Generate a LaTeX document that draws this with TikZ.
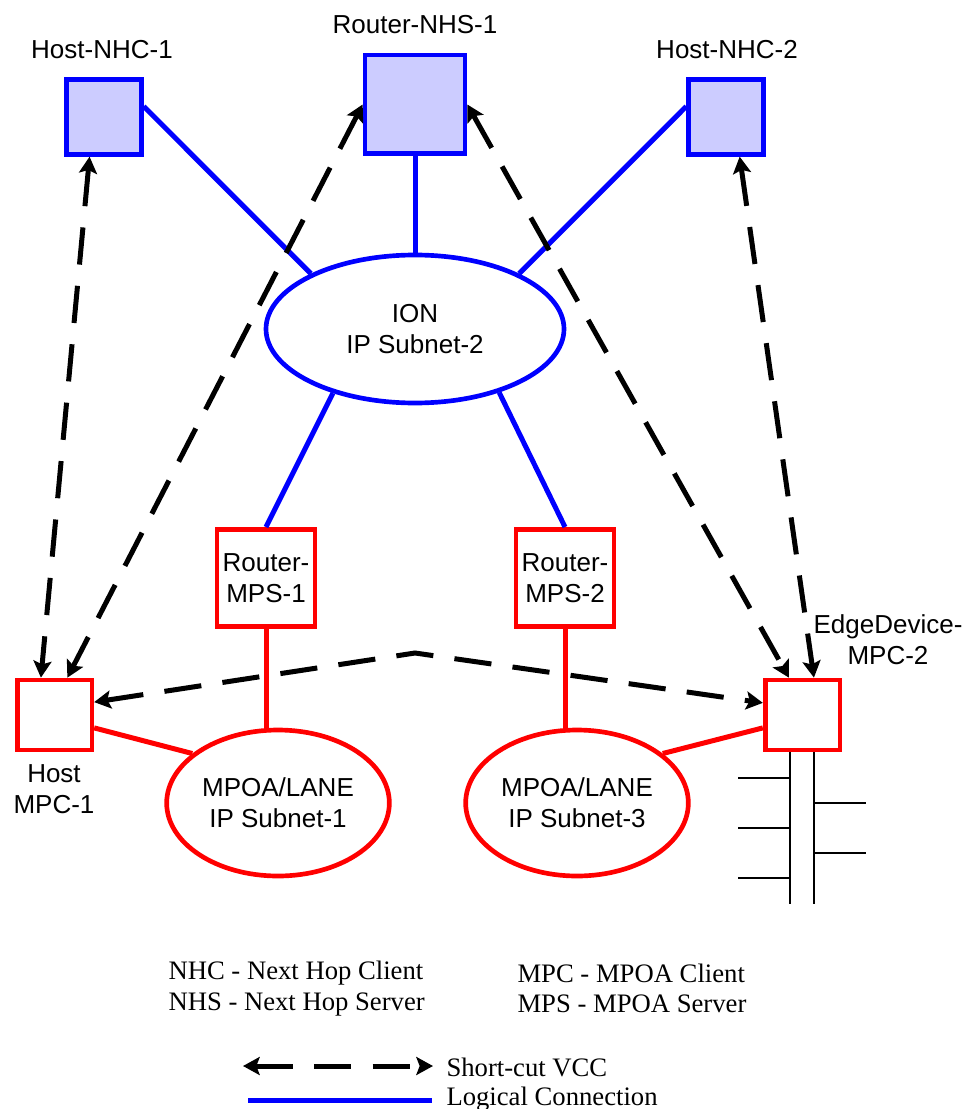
\documentclass[tikz,border=0pt]{standalone}
\usepackage{fontspec}
\setmainfont{Liberation Serif}
\setsansfont{Liberation Sans}
\usetikzlibrary{shapes.geometric,arrows.meta}

\definecolor{ionblue}{RGB}{0,0,255}
\definecolor{nhsfill}{RGB}{204,204,255}
\definecolor{lanered}{RGB}{255,0,0}

\tikzset{every picture/.style={line width=0.75pt}}
\tikzset{
	nhsbox/.style={draw=ionblue,fill=nhsfill,line width=3.5pt,inner sep=0pt},
	mpsbox/.style={draw=lanered,fill=white,line width=3.5pt,inner sep=0pt,align=center},
	cloud/.style={ellipse,fill=white,line width=3.5pt,inner sep=0pt,align=center},
	logical/.style={draw=ionblue,line width=3.75pt},
	lanelink/.style={draw=lanered,line width=3.75pt},
	vcc/.style={draw=black,line width=3.75pt,dash pattern=on 28pt off 16pt,
		{Stealth[length=12.5pt,width=13.5pt,inset=2.5pt]}-{Stealth[length=12.5pt,width=13.5pt,inset=2.5pt]}},
	devlabel/.style={align=center,inner sep=0.75pt},
	keytext/.style={font=\rmfamily\fontsize{20}{23}\selectfont,anchor=west,inner sep=0.75pt}
}

\begin{document}
\begin{tikzpicture}[x=0.75pt,y=0.75pt,yscale=-1,xscale=1,font=\sffamily\fontsize{19.5}{23}\selectfont]
	\useasboundingbox (0,0) rectangle (964,1109);
	
	%Shape: Square
	\node [nhsbox,minimum width=56pt,minimum height=56pt] (nhc1) at (104,117) {};
	%Shape: Square
	\node [nhsbox,minimum width=75pt,minimum height=74pt] (nhs1) at (415,104.5) {};
	%Shape: Square
	\node [nhsbox,minimum width=56pt,minimum height=56pt] (nhc2) at (726,117) {};
	%Shape: Ellipse
	\node [cloud,draw=ionblue,minimum width=223.5pt,minimum height=111pt] (ion) at (415,329) {ION\\IP Subnet-2};
	%Shape: Rectangle
	\node [mpsbox,minimum width=73.5pt,minimum height=73pt] (mps1) at (266,578) {Router-\\MPS-1};
	%Shape: Rectangle
	\node [mpsbox,minimum width=73.5pt,minimum height=73pt] (mps2) at (565,578) {Router-\\MPS-2};
	%Shape: Rectangle
	\node [mpsbox,minimum width=56pt,minimum height=52.5pt] (mpc1) at (54.5,715) {};
	%Shape: Rectangle
	\node [mpsbox,minimum width=56pt,minimum height=52.5pt] (mpc2) at (802.5,715) {};
	%Shape: Ellipse
	\node [cloud,draw=lanered,minimum width=167pt,minimum height=109.5pt] (lane1) at (278,803) {MPOA/LANE\\IP Subnet-1};
	%Shape: Ellipse
	\node [cloud,draw=lanered,minimum width=167pt,minimum height=109.5pt] (lane3) at (577,803) {MPOA/LANE\\IP Subnet-3};
	
	%Straight Lines
	\draw [logical] (nhc1.15) -- (ion.152);
	\draw [logical] (nhs1.south) -- (ion.north);
	\draw [logical] (nhc2.165) -- (ion.28);
	\draw [logical] (ion.218) -- (mps1.north);
	\draw [logical] (ion.323) -- (mps2.north);
	%Straight Lines
	\draw [lanelink] (mps1.south) -- (mps1.south |- lane1.north);
	\draw [lanelink] (mps2.south) -- (mps2.south |- lane3.north);
	\draw [lanelink] (mpc1.342) -- (lane1.150);
	\draw [lanelink] (mpc2.198) -- (lane3.30);
	
	%Straight Lines (bus of the edge device)
	\draw [line width=1.5pt] (790,752) -- (790,904);
	\draw [line width=1.5pt] (814,752) -- (814,904);
	\draw [line width=1.5pt] (738,778) -- (790,778);
	\draw [line width=1.5pt] (738,828) -- (790,828);
	\draw [line width=1.5pt] (738,878) -- (790,878);
	\draw [line width=1.5pt] (814,803) -- (866,803);
	\draw [line width=1.5pt] (814,853) -- (866,853);
	
	%Dashed Arrows
	\coordinate (bend) at (415,653);
	\draw [vcc] (nhc1.250) -- (mpc1.110);
	\draw [vcc] (nhs1.west) -- (mpc1.71);
	\draw [vcc] (nhs1.east) -- (mpc2.110);
	\draw [vcc] (nhc2.289) -- (mpc2.73);
	\draw [vcc] (mpc1.18) -- (bend) -- (mpc2.163);
	
	% Text Node
	\node [devlabel] (nhc1txt) at (102,50) {Host-NHC-1};
	% Text Node
	\node [devlabel] (nhs1txt) at (415,25) {Router-NHS-1};
	% Text Node
	\node [devlabel] (nhc2txt) at (727,50) {Host-NHC-2};
	% Text Node
	\node [devlabel] (mpc1txt) at (54,789) {Host\\MPC-1};
	% Text Node
	\node [devlabel] (mpc2txt) at (888,640) {EdgeDevice-\\MPC-2};
	
	% Text Node
	\node [keytext] (nhckey) at (167,973) {NHC - Next Hop Client};
	\node [keytext] (nhskey) at (167,1004) {NHS - Next Hop Server};
	\node [keytext] (mpckey) at (516,973) {MPC - MPOA Client};
	\node [keytext] (mpskey) at (516,1004) {MPS - MPOA Server};
	\node [keytext] (vcckey) at (445,1067) {Short-cut VCC};
	\node [keytext] (logkey) at (445,1099) {Logical Connection};
	\coordinate (vccL) at (243,1066);
	\coordinate (vccR) at (433,1066);
	\coordinate (logL) at (248,1100);
	\coordinate (logR) at (432,1100);
	\draw [vcc] (vccL) -- (vccR);
	\draw [logical] (logL) -- (logR);
	
\end{tikzpicture}
\end{document}
